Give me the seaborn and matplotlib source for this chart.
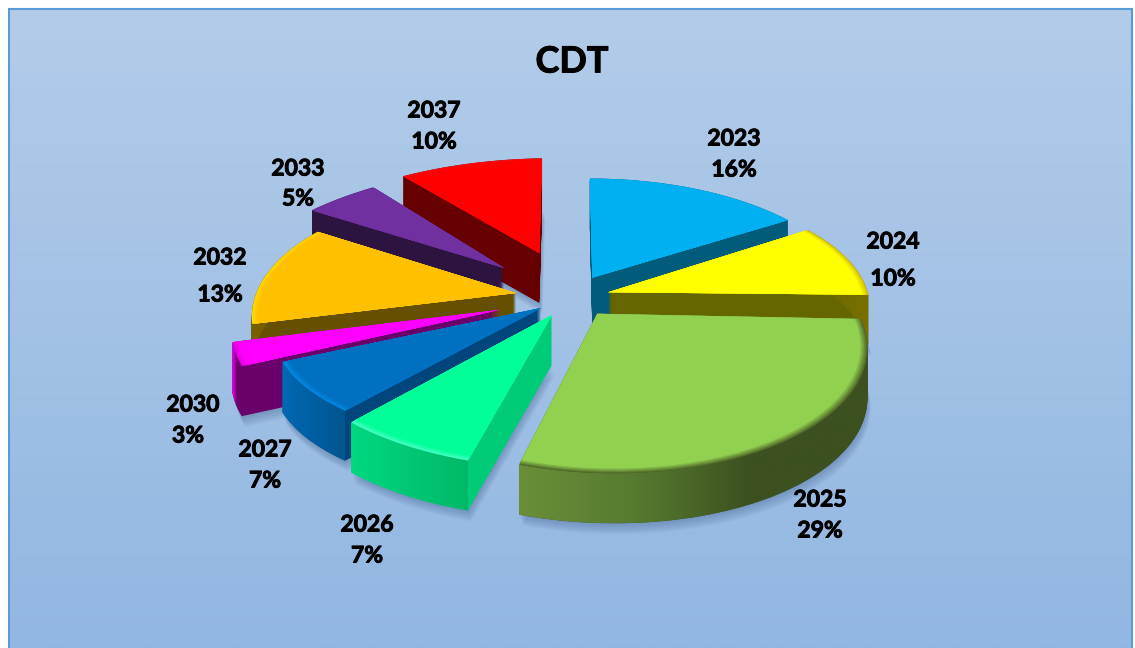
import numpy as np
import seaborn as sns
import matplotlib.pyplot as plt
import matplotlib.patches as mpatches
import matplotlib.patheffects as pe
from matplotlib.colors import LinearSegmentedColormap, to_rgb
from matplotlib.path import Path
from matplotlib.transforms import Affine2D, Transform

# data
years = ["2023", "2024", "2025", "2026", "2027", "2030", "2032", "2033", "2037"]
shares = [16, 10, 29, 7, 7, 3, 13, 5, 10]

# look of each slice
top_cols = ["#00b0f0", "#ffff00", "#92d050", "#00ff99", "#0070c0",
            "#ff00ff", "#ffc000", "#7030a0", "#ff0000"]
cut_cols = ["#005c7a", "#666600", "#3c5020", "#00cc78", "#00467c",
            "#6a006a", "#665000", "#2d1440", "#660000"]
rim_cols = [["#005c7a", "#005c7a"], ["#666600", "#7a7000"],
            ["#6a8f38", "#567a30", "#3c5020", "#3c5020"], ["#00d880", "#00b868"],
            ["#0068b4", "#00568f"], ["#ff00ff", "#6a006a", "#6a006a"],
            ["#7a6000", "#665000"], ["#2d1440", "#2d1440"], ["#660000", "#660000"]]
bevel_cols = ["#00b0f0", "#d8c800", "#55702c", "#40ffc0", "#0088e0",
              "#e000e0", "#ffd800", "#7030a0", "#f01010"]
explode = [0.12, 0.16, 0.23, 0.22, 0.17, 0.29, 0.18, 0.29, 0.30]
draw_order = [8, 7, 6, 0, 1, 5, 4, 3, 2]

# small per slice correction (perspective of the original is not a clean one)
skew = [(0.975, 0, 0, 1.03), (0.963, -0.116, -0.019, 1.022), (0.925, 0.088, -0.010, 0.975),
        (0.945, 0.165, -0.013, 0.937), (0.964, 0.224, -0.036, 0.885), (0.973, 0.333, -0.032, 0.958),
        (0.977, 0.217, -0.024, 1.059), (1.051, -0.005, -0.035, 1.096), (1.063, 0.014, -0.017, 1.048)]
nudge = [(12, 0), (1.5, 7), (-4, 0), (18.4, 1.4), (14.7, 6.3), (11.3, 10), (-2, 7.7), (-7.8, 1.6), (-2, -4.6)]

label_xy = [(734, 139), (893, 242), (820, 500), (367, 525), (265, 450),
            (193, 405), (220, 258), (298, 169), (434, 111)]
pct_xy = [(734, 170), (893, 279), (820, 531), (367, 556), (265, 481),
          (188, 436), (220, 295), (298, 199), (434, 142)]

depth = 50
cx, cy, sx, sy, persp = 565, 290, 270, 120, 0.2


class Tilt(Transform):
    # flat pie -> looking at it from above, back part smaller
    input_dims = 2
    output_dims = 2
    has_inverse = False

    def transform_non_affine(self, xy):
        xy = np.asarray(xy, dtype=float)
        w = 1 + persp * xy[:, 1]
        return np.column_stack([cx + sx * xy[:, 0] / w, cy - sy * xy[:, 1] / w])


def mix(a, b, t):
    a, b = np.array(to_rgb(a)), np.array(to_rgb(b))
    return tuple(a * (1 - t) + b * t)


sns.set_theme(style="white")
plt.rcParams["font.family"] = ["Lato", "DejaVu Sans"]

fig = plt.figure(figsize=(11.35, 6.48), dpi=100, facecolor="white")
ax = fig.add_axes([0, 0, 1, 1])

# the pie gives angles and exploded centres for each slice
palette = sns.color_palette(top_cols)
wedges, _ = ax.pie(shares, explode=explode, startangle=90, counterclock=False,
                   colors=palette, wedgeprops={"linewidth": 0})
ax.set_aspect("auto")
ax.axis("off")

# background
grad = np.linspace(0, 1, 256).reshape(-1, 1)
bg = LinearSegmentedColormap.from_list("bg", ["#b3cce9", "#92b7e2"])
ax.imshow(grad, cmap=bg, extent=(8, 1132, 648, 8), aspect="auto", zorder=0)
ax.set_xlim(0, 1135)
ax.set_ylim(648, 0)
ax.add_patch(mpatches.Rectangle((8.5, 8.5), 1123, 640, fill=False, ec="#5b9bd5", lw=1.5, zorder=1))

tilt = Tilt()


def slice_tf(i):
    tip = tilt.transform(np.array([wedges[i].center]))[0]
    m = skew[i]
    fit = Affine2D(np.array([[m[0], m[1], 0], [m[2], m[3], 0], [0, 0, 1]]))
    return tilt + (Affine2D().translate(-tip[0], -tip[1]) + fit
                   + Affine2D().translate(tip[0] + nudge[i][0], tip[1] + nudge[i][1]))


def place(i, dx=0, dy=0):
    return slice_tf(i) + Affine2D().translate(dx, dy) + ax.transData


for z, i in enumerate(draw_order):
    w = wedges[i]
    base = 10 + z * 10
    th1, th2 = w.theta1, w.theta2

    # soft shadow under the slice
    for s in range(1, 12):
        ax.add_patch(mpatches.Wedge(w.center, 1, th1, th2, fc="#2c4a78", alpha=0.03, lw=0,
                                    transform=place(i, s * 0.3, depth + s), zorder=5))

    # side walls, stacked downwards
    for d in range(depth, 0, -1):
        ax.add_patch(mpatches.Wedge(w.center, 1, th1, th2, fc=cut_cols[i], lw=0,
                                    transform=place(i, 0, d), zorder=base))

    # curved outer wall with left-right shading
    a = np.radians(np.linspace(th1, th2, 120))
    arc = slice_tf(i).transform(np.column_stack([w.center[0] + np.cos(a), w.center[1] + np.sin(a)]))
    low = arc[::-1] + [0, depth]
    outline = np.vstack([arc, low, arc[:1]])
    cmap = LinearSegmentedColormap.from_list(f"rim{i}", rim_cols[i])
    im = ax.imshow(np.linspace(0, 1, 256).reshape(1, -1), cmap=cmap, aspect="auto", zorder=base + 1,
                   extent=(outline[:, 0].min(), outline[:, 0].max(), outline[:, 1].max(), outline[:, 1].min()))
    im.set_clip_path(mpatches.PathPatch(Path(outline), transform=ax.transData))

    # top face with a small bevel at the edge
    steps = 5
    for k in range(steps):
        t = k / (steps - 1)
        ax.add_patch(mpatches.Wedge(w.center, 1 - 0.006 * k, th1, th2, fc=mix(bevel_cols[i], top_cols[i], t),
                                    lw=0, transform=place(i), zorder=base + 2 + k))
    w.set_visible(False)

ax.set_xlim(0, 1135)
ax.set_ylim(648, 0)

bold = [pe.withStroke(linewidth=0.7, foreground="black")]
for i in range(len(years)):
    ax.text(*label_xy[i], years[i], ha="center", va="center", fontsize=16.5, fontweight="bold",
            color="black", zorder=200, path_effects=bold)
    ax.text(*pct_xy[i], f"{shares[i]}%", ha="center", va="center", fontsize=16.5, fontweight="bold",
            color="black", zorder=200, path_effects=bold)

ax.text(572, 62, "CDT", ha="center", va="center", fontsize=26, fontweight="bold", color="black",
        zorder=200, path_effects=bold)

fig.savefig("out.png", dpi=100, facecolor="white")
